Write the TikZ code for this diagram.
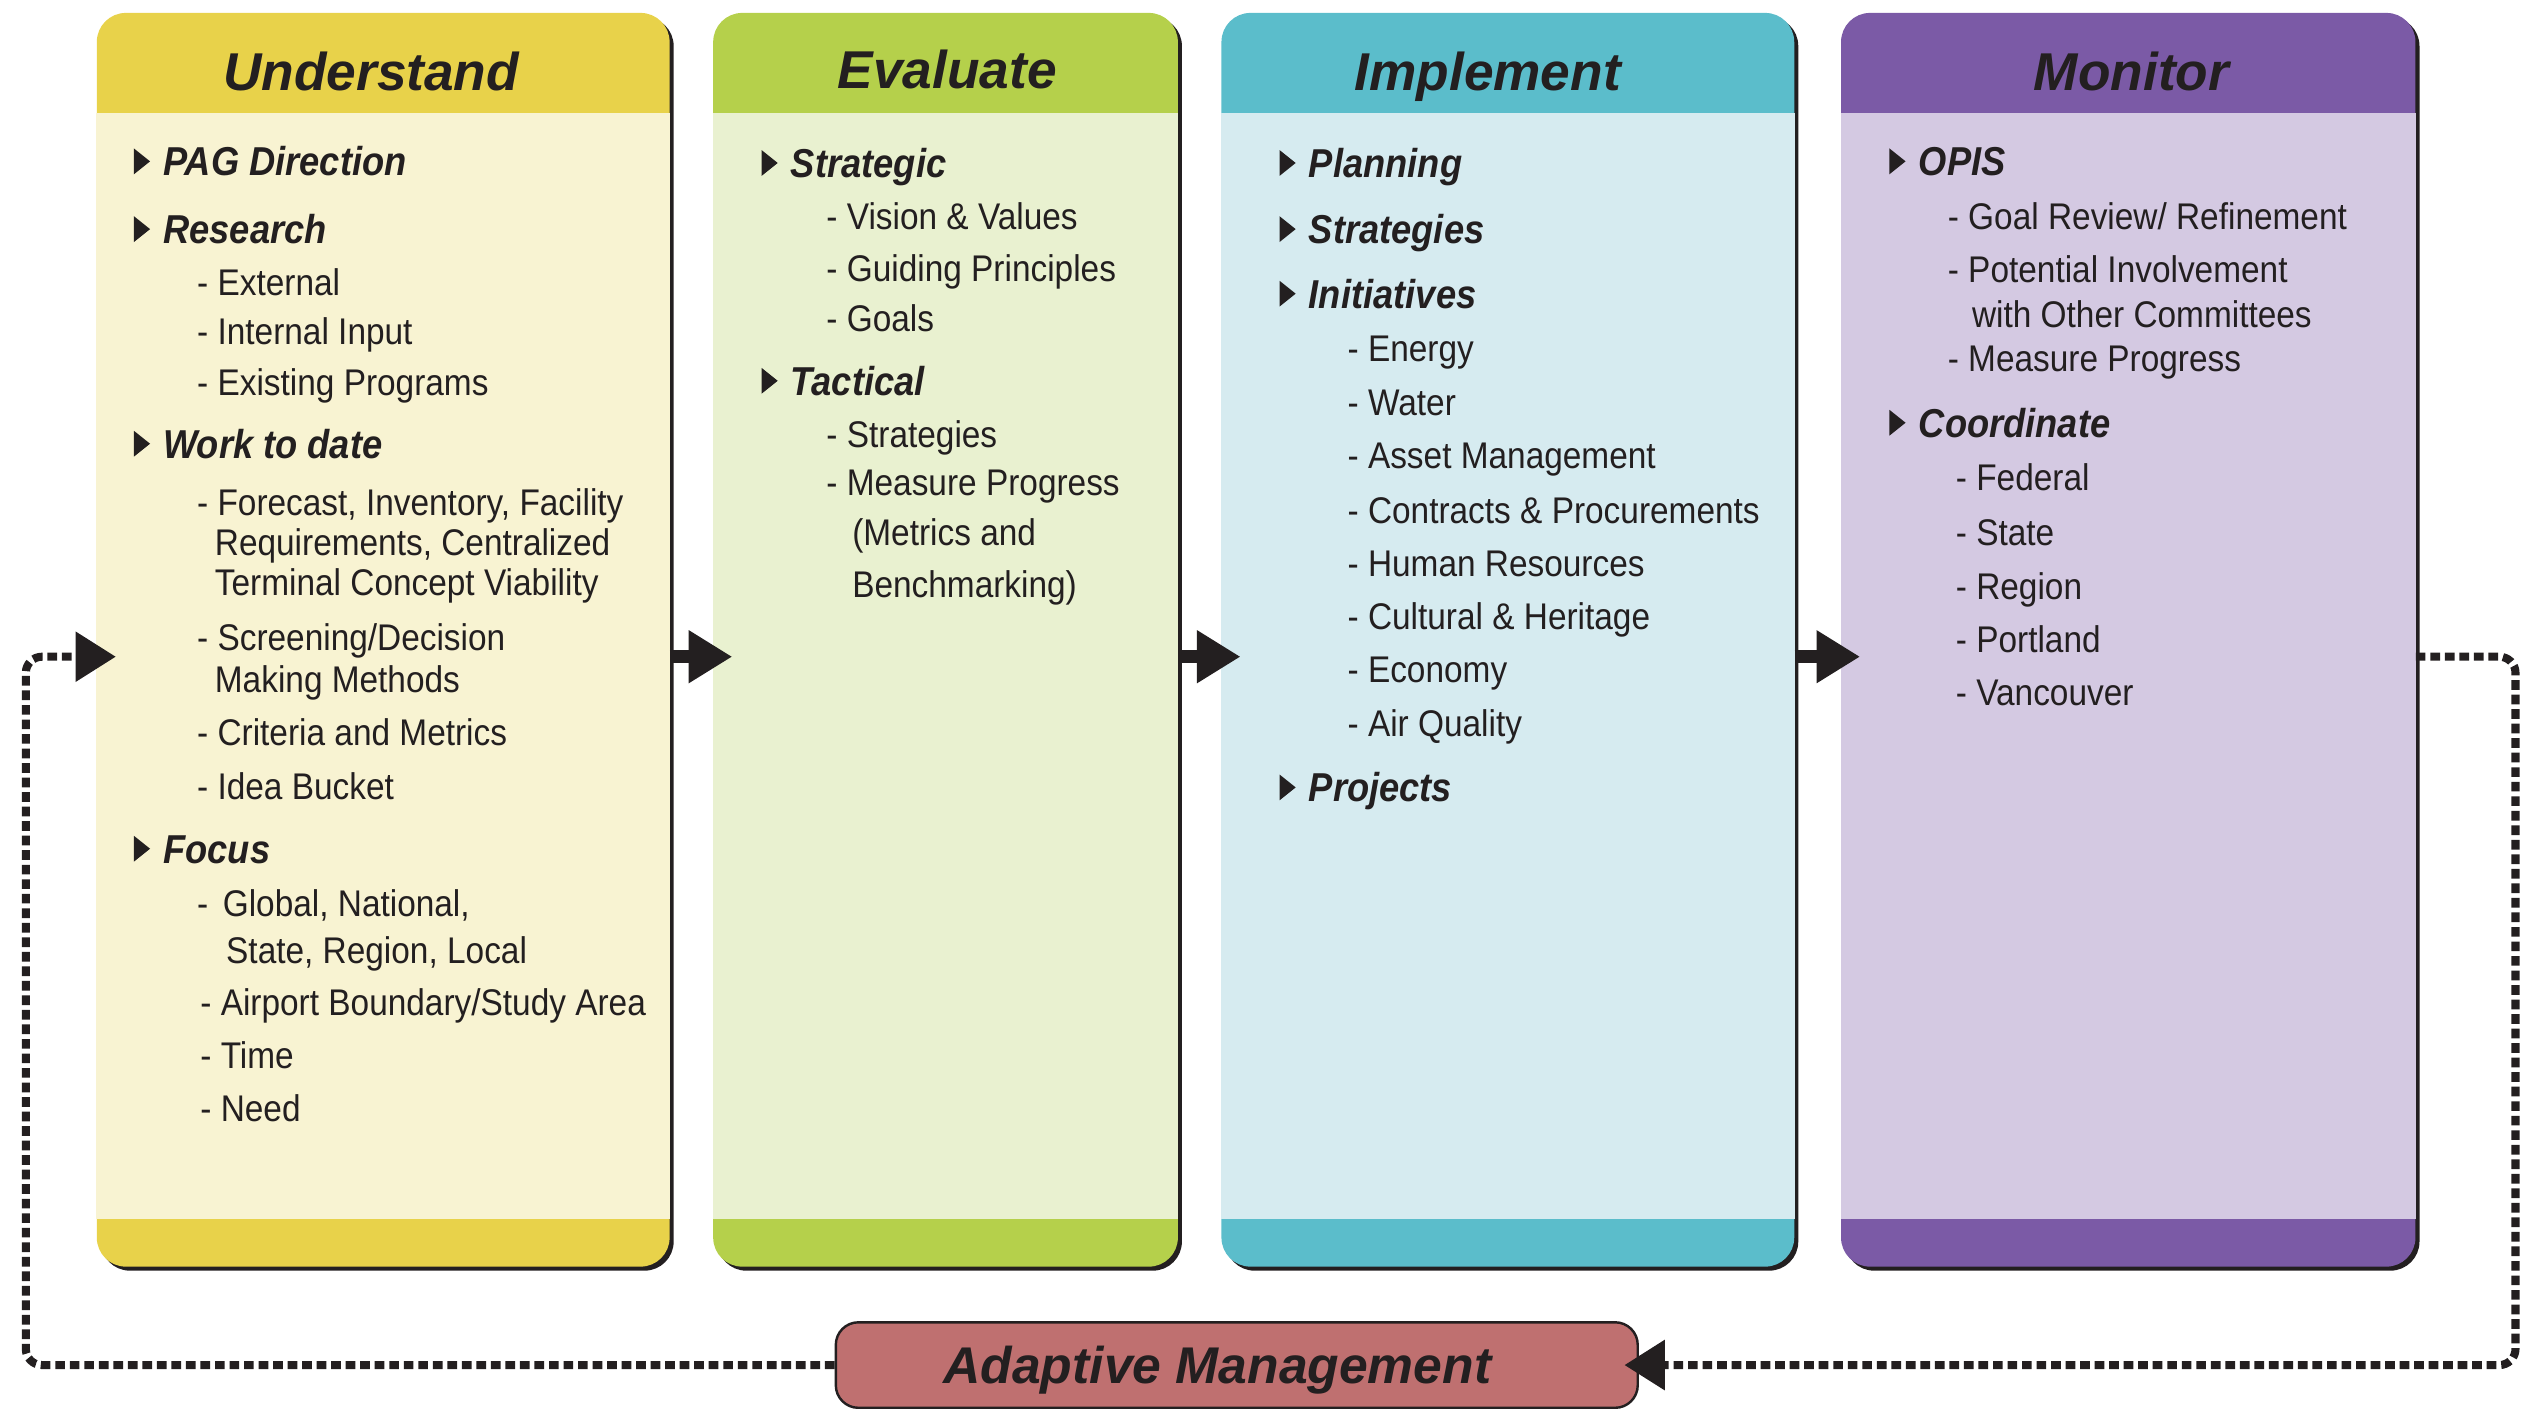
\documentclass[tikz,border=0pt]{standalone}
\usepackage{fontspec}
\setmainfont[FakeStretch=0.9]{Liberation Sans}
\newfontfamily\headfont{Liberation Sans}
\usetikzlibrary{arrows.meta,shadows}

\definecolor{ink}{HTML}{231F20}
\definecolor{uhead}{HTML}{E8D24A}
\definecolor{ubody}{HTML}{F8F3D2}
\definecolor{ehead}{HTML}{B5D04B}
\definecolor{ebody}{HTML}{E9F1D0}
\definecolor{ihead}{HTML}{5BBDCB}
\definecolor{ibody}{HTML}{D6EBF0}
\definecolor{mhead}{HTML}{7B5AA6}
\definecolor{mbody}{HTML}{D4C9E2}
\definecolor{amfill}{HTML}{BF7070}

\begin{document}
\begin{tikzpicture}[x=1pt, y=-1pt,
	phase/.style = {rectangle, rounded corners=18pt, inner sep=0pt, minimum height=777pt,
		drop shadow={fill=ink, opacity=1, shadow xshift=2.5pt, shadow yshift=-2.5pt}},
	title/.style = {inner sep=0pt, text=ink, text height=23.6pt, text depth=0pt,
		font=\headfont\bfseries\itshape\fontsize{33}{36}\selectfont},
	topic/.style = {anchor=west, inner sep=0pt, text=ink, text height=17.9pt, text depth=0pt,
		font=\bfseries\itshape\fontsize{25}{27}\selectfont},
	item/.style = {anchor=west, inner sep=0pt, text=ink, text height=16.5pt, text depth=0pt,
		font=\fontsize{23}{25}\selectfont},
	adapt/.style = {draw=ink, line width=1.5pt, fill=amfill, rounded corners=14pt,
		minimum width=497pt, minimum height=53pt, inner sep=0pt, text=ink,
		text height=22.9pt, text depth=0pt,
		font=\headfont\bfseries\itshape\fontsize{32}{34}\selectfont},
	flow/.style = {draw=ink, line width=8pt, -{Triangle[length=27pt, width=31pt]}, shorten >=-12pt},
	feedback/.style = {draw=ink, line width=5pt, dash pattern=on 6pt off 3pt, rounded corners=10pt,
		-{Triangle[length=25pt, width=30pt]}},
	tri/.pic = {\fill[ink] (-18,-8) -- (-8,0) -- (-18,8) -- cycle;}
	]
	\useasboundingbox (0,0) rectangle (1568,873);
	\coordinate (mid) at (0,407);

	% the four phases
	\node[phase, fill=uhead, minimum width=355pt] (u) at (237.5,396.5) {};
	\fill[ubody] ([yshift=-62pt]u.north west) rectangle ([yshift=30pt]u.south east);
	\node[phase, fill=ehead, minimum width=288pt] (e) at (586,396.5) {};
	\fill[ebody] ([yshift=-62pt]e.north west) rectangle ([yshift=30pt]e.south east);
	\node[phase, fill=ihead, minimum width=355pt] (i) at (934.5,396.5) {};
	\fill[ibody] ([yshift=-62pt]i.north west) rectangle ([yshift=30pt]i.south east);
	\node[phase, fill=mhead, minimum width=356pt] (m) at (1319,396.5) {};
	\fill[mbody] ([yshift=-62pt]m.north west) rectangle ([yshift=30pt]m.south east);

	\node[title] (ut) at (230,44) {Understand};
	\node[title] (et) at (587,43) {Evaluate};
	\node[title] (it) at (922,44) {Implement};
	\node[title] (mt) at (1321,44) {Monitor};

	% Understand
	\node[topic] (u1) at (101,100) {PAG Direction};
	\node[topic] (u2) at (101,142) {Research};
	\node[item] (u21) at (122,175) {- External};
	\node[item] (u22) at (122,205) {- Internal Input};
	\node[item] (u23) at (122,237) {- Existing Programs};
	\node[topic] (u3) at (101,275) {Work to date};
	\node[item] (u31) at (122,311) {- Forecast, Inventory, Facility};
	\node[item] (u31b) at (133,336) {Requirements, Centralized};
	\node[item] (u31c) at (133,361) {Terminal Concept Viability};
	\node[item] (u32) at (122,395) {- Screening/Decision};
	\node[item] (u32b) at (133,421) {Making Methods};
	\node[item] (u33) at (122,454) {- Criteria and Metrics};
	\node[item] (u34) at (122,487) {- Idea Bucket};
	\node[topic] (u4) at (101,526) {Focus};
	\node[item] (u41) at (122,560) {-\hspace{9pt}Global, National,};
	\node[item] (u41b) at (140,589) {State, Region, Local};
	\node[item] (u42) at (124,621) {- Airport Boundary/Study Area};
	\node[item] (u43) at (124,654) {- Time};
	\node[item] (u44) at (124,687) {- Need};

	% Evaluate
	\node[topic] (e1) at (490,101) {Strategic};
	\node[item] (e11) at (512,134) {- Vision \& Values};
	\node[item] (e12) at (512,166) {- Guiding Principles};
	\node[item] (e13) at (512,197) {- Goals};
	\node[topic] (e2) at (490,236) {Tactical};
	\node[item] (e21) at (512,269) {- Strategies};
	\node[item] (e22) at (512,299) {- Measure Progress};
	\node[item] (e22b) at (528,330) {(Metrics and};
	\node[item] (e22c) at (528,362) {Benchmarking)};

	% Implement
	\node[topic] (i1) at (811,101) {Planning};
	\node[topic] (i2) at (811,142) {Strategies};
	\node[topic] (i3) at (811,182) {Initiatives};
	\node[item] (i31) at (835,216) {- Energy};
	\node[item] (i32) at (835,249) {- Water};
	\node[item] (i33) at (835,282) {- Asset Management};
	\node[item] (i34) at (835,316) {- Contracts \& Procurements};
	\node[item] (i35) at (835,349) {- Human Resources};
	\node[item] (i36) at (835,382) {- Cultural \& Heritage};
	\node[item] (i37) at (835,415) {- Economy};
	\node[item] (i38) at (835,448) {- Air Quality};
	\node[topic] (i4) at (811,488) {Projects};

	% Monitor
	\node[topic] (m1) at (1189,100) {OPIS};
	\node[item] (m11) at (1207,134) {- Goal Review/ Refinement};
	\node[item] (m12) at (1207,167) {- Potential Involvement};
	\node[item] (m12b) at (1222,195) {with Other Committees};
	\node[item] (m13) at (1207,222) {- Measure Progress};
	\node[topic] (m2) at (1189,262) {Coordinate};
	\node[item] (m21) at (1212,296) {- Federal};
	\node[item] (m22) at (1212,330) {- State};
	\node[item] (m23) at (1212,363) {- Region};
	\node[item] (m24) at (1212,396) {- Portland};
	\node[item] (m25) at (1212,429) {- Vancouver};

	\foreach \t in {u1,u2,u3,u4,e1,e2,i1,i2,i3,i4,m1,m2}
		\pic at (\t.west) {tri};

	% arrows between phases
	\draw[flow] (u.east |- mid) -- (e.west |- mid);
	\draw[flow] (e.east |- mid) -- (i.west |- mid);
	\draw[flow] (i.east |- mid) -- (m.west |- mid);

	% feedback loop
	\node[adapt] (am) at (766.5,846) {Adaptive Management\hspace*{24pt}};
	\draw[feedback, shorten >=-9pt] (m.east |- mid) -- (1559,407) -- (1559,846) -- (am.east);
	\draw[feedback, shorten >=-12pt] (am.west) -- (16,846) -- (16,407) -- (u.west |- mid);
\end{tikzpicture}
\end{document}
